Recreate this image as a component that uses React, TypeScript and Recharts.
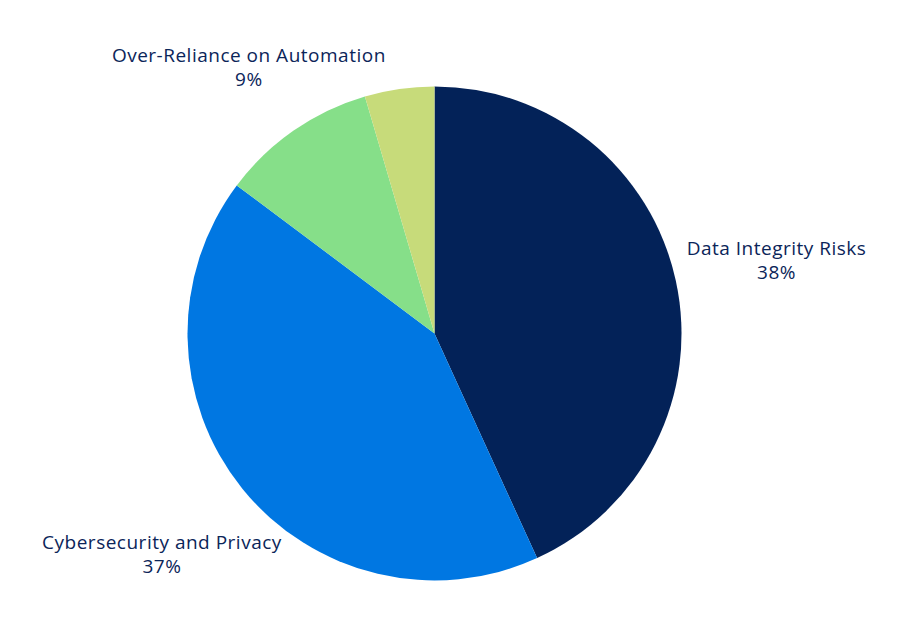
import { Cell, Pie, PieChart } from "recharts";

const NAMES = [
  "Data Integrity Risks",
  "Cybersecurity and Privacy",
  "Over-Reliance on Automation",
  "Other",
];
const VALUES = [38, 37, 9, 4];
const SHOW_LABEL = [true, true, true, false];

const COLORS = ["#032258", "#0077E2", "#86DF89", "#C7DB7A"];
const TEXT = "#0B2559";
const RADIAN = Math.PI / 180;

const data = NAMES.map((name, i) => ({ name, value: VALUES[i] }));

const renderLabel = (props: any) => {
  const { cx, cy, midAngle, index, value, name } = props;
  if (!SHOW_LABEL[index]) return null;
  const dx = Math.cos(-midAngle * RADIAN);
  const dy = Math.sin(-midAngle * RADIAN);
  let r = 350;
  // keep labels inside the top of the chart
  const minY = 66;
  if (cy + r * dy < minY) r = (minY - cy) / dy;
  const x = cx + r * dx;
  const y = cy + r * dy;
  return (
    <text
      x={x}
      y={y}
      fill={TEXT}
      textAnchor="middle"
      style={{
        fontFamily: "'Open Sans', sans-serif",
        fontSize: 19,
        letterSpacing: 0.5,
      }}
    >
      <tspan x={x} dy={-4}>
        {name}
      </tspan>
      <tspan x={x} dy={24}>
        {value}%
      </tspan>
    </text>
  );
};

export default function App() {
  return (
    <div style={{ width: 900, height: 627, marginTop: -8, marginLeft: -8 }}>
      <PieChart width={900} height={627}>
        <Pie
          data={data}
          dataKey="value"
          nameKey="name"
          cx={429.5}
          cy={328.4}
          outerRadius={247}
          startAngle={90}
          endAngle={-270}
          stroke="none"
          label={renderLabel}
          labelLine={false}
          isAnimationActive={false}
        >
          {data.map((_, i) => (
            <Cell key={`cell-${i}`} fill={COLORS[i]} />
          ))}
        </Pie>
      </PieChart>
    </div>
  );
}
